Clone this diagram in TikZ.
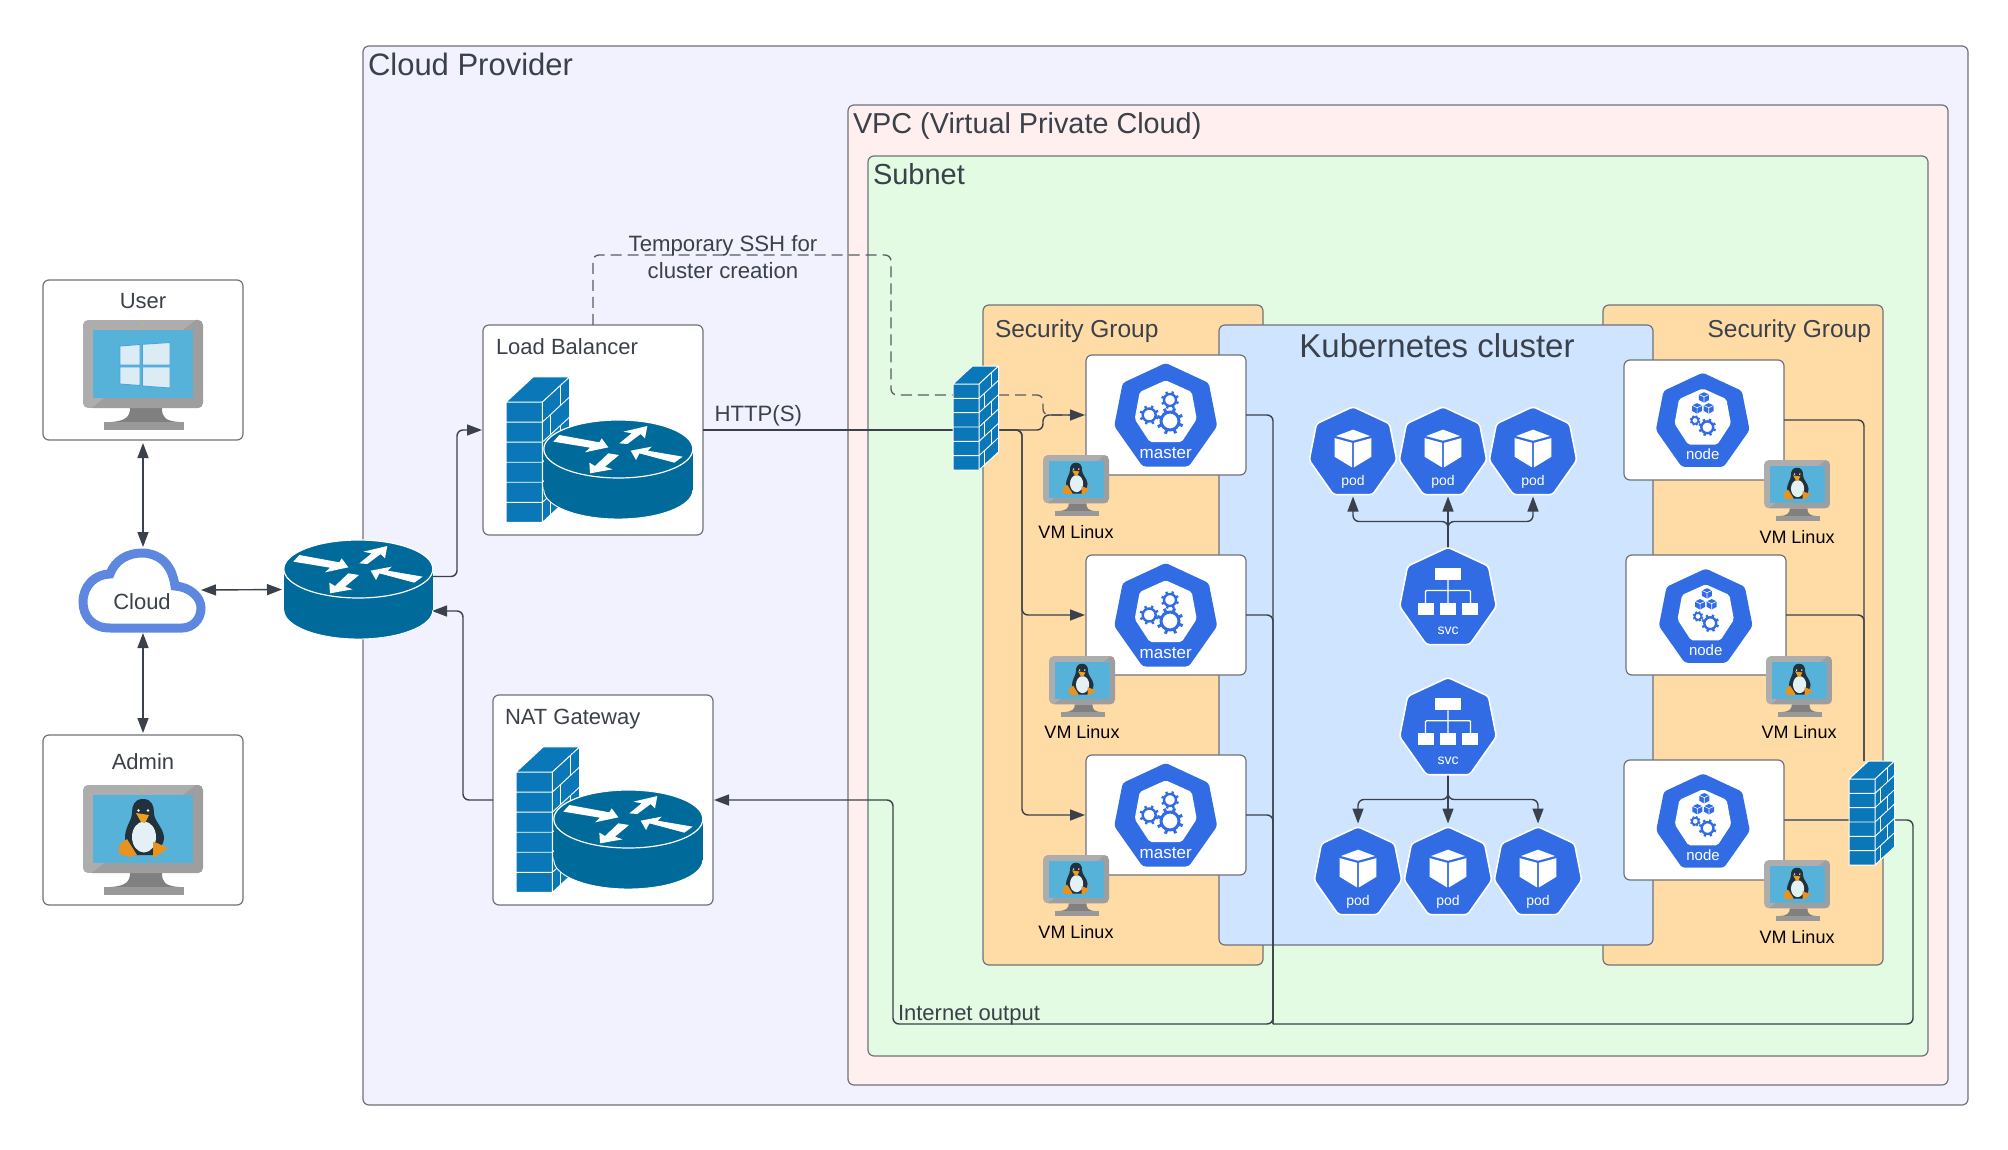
\documentclass[tikz,border=0pt]{standalone}
\usepackage{fontspec}
\setmainfont{Liberation Sans}
\usetikzlibrary{arrows.meta,calc}
\definecolor{ink}{HTML}{3A414A}
\definecolor{edgec}{HTML}{6F7279}
\definecolor{cpfill}{HTML}{F1F2FE}
\definecolor{vpcfill}{HTML}{FFF0EF}
\definecolor{subfill}{HTML}{E3FAE3}
\definecolor{sgfill}{HTML}{FFDBA6}
\definecolor{k8fill}{HTML}{CFE4FF}
\definecolor{rtblue}{HTML}{006A9A}
\definecolor{fwblue}{HTML}{0A78B8}
\definecolor{hexblue}{HTML}{326CE5}
\definecolor{cloudblue}{HTML}{5E87DF}
\definecolor{screenb}{HTML}{56B2D9}
\definecolor{pengdark}{HTML}{22323C}
\definecolor{pengbelly}{HTML}{E3F0F5}
\definecolor{pengbeak}{HTML}{F0A020}
\definecolor{pengfoot}{HTML}{E8921F}
\definecolor{winpane}{HTML}{DBECF5}
\definecolor{winedge}{HTML}{4AA5DC}
\tikzset{
  zone/.style={draw=edgec,line width=1.2pt,rounded corners=6pt,inner sep=0pt,outer sep=0pt,anchor=north west},
  ghost/.style={inner sep=0pt,outer sep=0pt},
  conn/.style={draw=ink,line width=1.4pt,rounded corners=6pt},
  arr/.style={-{Triangle[length=15pt,width=11pt]}},
  biarr/.style={{Triangle[length=15pt,width=11pt]}-{Triangle[length=15pt,width=11pt]}},
  dashc/.style={draw=edgec!80!black,line width=1.3pt,rounded corners=6pt,dash pattern=on 11pt off 6pt},
  txt/.style={inner sep=0pt,outer sep=0pt,text=ink},
}
\newcommand\fs[1]{\fontsize{#1}{#1}\selectfont}
\newcommand\bx[6]{\node[zone,#6,minimum width={#4-#2},minimum height={#5-#3}] (#1) at (#2,#3) {};}
\newcommand\heptpath{(0,0) -- (43,20) -- (51.5,63) -- (23,103.5) -- (-23,103.5) -- (-51.5,63) -- (-43,20) -- cycle}
\newcommand\heptinner{(0,17.3) -- (26,29) -- (31,56) -- (16,79) -- (-16,79) -- (-31,56) -- (-26,29) -- cycle}
\newcommand\gear[4]{%
  \draw[hexblue,line width=#4pt] (#1,#2) circle (#3);
  \foreach \a in {0,45,...,315}{\draw[hexblue,line width=#4pt] (#1,#2) ++(\a+20:#3) -- ++(\a+20:#3*0.5);}
}
\newcommand\smallcube[2]{%
  \begin{scope}[shift={(#1,#2)}]
  \fill[hexblue] (0,-5.5) -- (5.5,-3) -- (5.5,3) -- (0,6) -- (-5.5,3) -- (-5.5,-3) -- cycle;
  \draw[white,line width=.6pt] (-5.5,-3) -- (0,-.5) -- (5.5,-3) (0,-.5) -- (0,6);
  \end{scope}
}
\newcommand\masterhex[3]{%
  \begin{scope}[shift={(#2,#3)}]
  \fill[hexblue,rounded corners=3pt] \heptpath;
  \fill[white,rounded corners=2pt] \heptinner;
  \gear{4.3}{58}{9}{3}
  \gear{4.3}{37}{6}{2.4}
  \gear{-16.5}{52}{6.5}{2.4}
  \node[txt,text=white] (#1) at (0,90) {\fs{17}master};
  \end{scope}
}
\newcommand\nodehex[4]{%
  \begin{scope}[shift={(#2,#3)},scale=.91]
  \fill[hexblue,rounded corners=3pt] \heptpath;
  \fill[white,rounded corners=2pt] \heptinner;
  \smallcube{1.4}{27}
  \smallcube{-6.2}{39}
  \smallcube{6.6}{39}
  \gear{-8.5}{52.5}{3.8}{1.8}
  \gear{5}{60}{6.5}{2.4}
  \node[txt,text=white] (#1) at (0,#4) {\fs{15}node};
  \end{scope}
}
\newcommand\podhex[3]{%
  \begin{scope}[shift={(#2,#3)},scale=.85]
  \draw[white,fill=hexblue,line width=1.6pt,rounded corners=3pt] \heptpath;
  \fill[white] (0,27) -- (20,34.5) -- (0,40) -- (-20,34.5) -- cycle;
  \fill[white] (-21.5,37) -- (-1,42.5) -- (-1,71.5) -- (-21.5,59) -- cycle;
  \fill[white] (21.5,37) -- (1,42.5) -- (1,71.5) -- (21.5,59) -- cycle;
  \node[txt,text=white] (#1) at (0,88) {\fs{14}pod};
  \end{scope}
}
\newcommand\svchex[3]{%
  \begin{scope}[shift={(#2,#3)},scale=.94]
  \draw[white,fill=hexblue,line width=1.6pt,rounded corners=3pt] \heptpath;
  \fill[white] (-13.7,22) rectangle (14,35);
  \draw[white,line width=1.3pt,rounded corners=1pt] (0,35) -- (0,60) (-24,60) -- (-24,46) -- (24,46) -- (24,60);
  \fill[white] (-32,59.5) rectangle (-15,72);
  \fill[white] (-8.5,59.5) rectangle (8.5,72);
  \fill[white] (15,59.5) rectangle (32,72);
  \node[txt,text=white] (#1) at (0,89) {\fs{14}svc};
  \end{scope}
}
\newcommand\routericon[2]{%
  \begin{scope}[shift={(#1,#2)},scale=.33333]
  \draw[white,fill=rtblue,line width=.9pt] (235,240) ellipse [x radius=223.5,y radius=87];
  \fill[rtblue] (11.5,117) rectangle (458.5,240);
  \draw[white,fill=rtblue,line width=1.2pt] (235,117) ellipse [x radius=223.5,y radius=87];
  \fill[white] (40,95) -- (58,75) -- (178,97) -- (185,85) -- (205,112) -- (135,127) -- (150,113) -- cycle;
  \fill[white] (238,100) -- (275,70) -- (250,65) -- (322,48) -- (315,85) -- (302,72) -- (262,102) -- cycle;
  \fill[white] (428,140) -- (403,158) -- (298,130) -- (288,150) -- (272,122) -- (335,110) -- (323,122) -- cycle;
  \fill[white] (237,135) -- (195,170) -- (218,178) -- (150,190) -- (148,158) -- (165,168) -- (205,130) -- cycle;
  \end{scope}
}
\newcommand\firewallicon[3]{%
  \begin{scope}[shift={(#1,#2)},scale=#3]
  \fill[fwblue] (0,0) rectangle (26,86);
  \fill[fwblue] (0,0) -- (19.5,-18) -- (45.5,-18) -- (26,0) -- cycle;
  \fill[fwblue] (26,0) -- (45.5,-18) -- (45.5,68) -- (26,86) -- cycle;
  \foreach \r in {1,...,5}{
    \pgfmathsetmacro\yy{\r*86/6}
    \pgfmathsetmacro\yb{\yy-18}
    \draw[white,line width=.9pt] (0,\yy) -- (26,\yy) -- (45.5,\yb);
  }
  \foreach \r/\f in {0/.65,1/.3,2/.65,3/.3,4/.65,5/.3}{
    \pgfmathsetmacro\xx{26+19.5*\f}
    \pgfmathsetmacro\ya{\r*86/6-18*\f}
    \pgfmathsetmacro\yb{\ya+86/6}
    \draw[white,line width=.9pt] (\xx,\ya) -- (\xx,\yb);
  }
  \draw[white,line width=1pt,line join=round] (0,0) rectangle (26,86) (0,0) -- (19.5,-18) -- (45.5,-18) -- (45.5,68) -- (26,86) (26,0) -- (45.5,-18);
  \end{scope}
}
\newcommand\penguin{%
  \fill[pengdark] (60,14) .. controls (51,14) and (49,21) .. (49,28) .. controls (49,36) and (41,42) .. (42,56) .. controls (43,62) and (46,66) .. (50,70) -- (70,70) .. controls (76,66) and (81,60) .. (81,52) .. controls (80,42) and (71,36) .. (71,28) .. controls (71,21) and (69,14) .. (60,14) -- cycle;
  \fill[pengbelly] (61,52) ellipse [x radius=12,y radius=15.5];
  \fill[white] (55.5,25.5) circle (1.4) (65,25.5) circle (1.4);
  \fill[pengbeak] (53,28) -- (66,30) -- (62,38) -- (58,37) -- cycle;
  \fill[pengfoot] (36,60) -- (44,54) -- (54,70) -- (47,72) -- (36,69) -- cycle;
  \fill[pengfoot] (70,57) -- (74,58) -- (85,63) -- (77,69) -- (70,73) -- cycle;
}
\newcommand\winlogo{%
  \fill[winpane,draw=winedge,line width=.9pt] (37,26) -- (57,24.5) -- (57,45) -- (37,45) -- cycle;
  \fill[winpane,draw=winedge,line width=.9pt] (59.5,24.3) -- (87,22.5) -- (87,45) -- (59.5,45) -- cycle;
  \fill[winpane,draw=winedge,line width=.9pt] (37,47) -- (57,47) -- (57,65.5) -- (37,64) -- cycle;
  \fill[winpane,draw=winedge,line width=.9pt] (59.5,47) -- (87,47) -- (87,68) -- (59.5,66) -- cycle;
}
\newcommand\monitor[4]{%
  \begin{scope}[shift={(#1,#2)},scale=#3]
  \fill[black!50] (47,88) .. controls (47,97) and (42,101) .. (28,102) -- (96,102) .. controls (82,101) and (79,97) .. (79,88) -- cycle;
  \fill[black!40] (21,102) rectangle (101,110);
  \begin{scope}
    \clip[rounded corners=5pt] (0,0) rectangle (120,88);
    \fill[black!32] (0,0) rectangle (120,88);
    \fill[black!38] (100,10) -- (113,0) -- (120,0) -- (120,88) -- (9,88) -- (21,78) -- (110,78) -- (110,10) -- cycle;
  \end{scope}
  \fill[screenb] (10,10) rectangle (110,78);
  \fill[yellow!70!green] (60,5) circle (.9);
  #4
  \end{scope}
}
\begin{document}
\begin{tikzpicture}[x=1pt,y=-1pt]
\useasboundingbox (0,0) rectangle (2008,1150);
\fill[white] (0,0) rectangle (2008,1150);
% zones
\bx{cp}{363}{46}{1968}{1105}{fill=cpfill}
\bx{vpc}{848}{105}{1948}{1085}{fill=vpcfill}
\bx{sub}{868}{156}{1928}{1056}{fill=subfill}
\bx{sgl}{983}{305}{1263}{965}{fill=sgfill}
\bx{sgr}{1603}{305}{1883}{965}{fill=sgfill}
\bx{k8}{1219}{325}{1653}{945}{fill=k8fill}
\node[txt,anchor=west] (tcp) at (368,64.5) {\fs{31}Cloud Provider};
\node[txt,anchor=west] (tvpc) at (853,126) {\fs{28.8}VPC (Virtual Private Cloud)};
\node[txt,anchor=west] (tsub) at (873,174) {\fs{29}Subnet};
\node[txt,anchor=west] (tsgl) at (995,331.5) {\fs{24.5}Security Group};
\node[txt,anchor=east] (tsgr) at (1871,331.5) {\fs{24.5}Security Group};
\node[txt] (tk8) at (1437,346) {\fs{33}Kubernetes cluster};
% outer boxes
\bx{user}{43}{280}{243}{440}{fill=white}
\bx{admin}{43}{735}{243}{905}{fill=white}
\bx{lb}{483}{325}{703}{535}{fill=white}
\bx{nat}{493}{695}{713}{905}{fill=white}
\node[txt] (tuser) at (143,301) {\fs{22}User};
\node[txt] (tadmin) at (143,762) {\fs{22}Admin};
\node[txt,anchor=west] (tlb) at (496,347) {\fs{22}Load Balancer};
\node[txt,anchor=west] (tnat) at (505,719.5) {\fs{22}NAT Gateway};
% anchors for icons
\node[ghost,minimum width=128,minimum height=84] (cld) at (143,590) {};
\node[ghost,minimum width=149,minimum height=99] (rt) at (358.5,589.5) {};
\node[ghost,minimum width=45,minimum height=103] (fwa) at (975.5,417.5) {};
\node[ghost,minimum width=45,minimum height=104] (fwb) at (1871.5,813) {};
% master and worker boxes
\bx{ma}{1086}{355}{1246}{475}{fill=white}
\bx{mb}{1086}{555}{1246}{675}{fill=white}
\bx{mc}{1086}{755}{1246}{875}{fill=white}
\bx{na}{1624}{360}{1784}{480}{fill=white}
\bx{nb}{1626}{555}{1786}{675}{fill=white}
\bx{nc}{1624}{760}{1784}{880}{fill=white}
% pods anchors
\node[ghost,minimum width=87,minimum height=87] (pa) at (1353,450) {};
\node[ghost,minimum width=87,minimum height=87] (pb) at (1443,450) {};
\node[ghost,minimum width=87,minimum height=87] (pc) at (1533,450) {};
\node[ghost,minimum width=100,minimum height=96] (sa) at (1448,595.5) {};
\node[ghost,minimum width=100,minimum height=96] (sb) at (1448,725.5) {};
\node[ghost,minimum width=87,minimum height=87] (qa) at (1358,870) {};
\node[ghost,minimum width=87,minimum height=87] (qb) at (1448,870) {};
\node[ghost,minimum width=87,minimum height=87] (qc) at (1538,870) {};
\coordinate (bus) at (1273,1024);
\coordinate (busl) at (893,1024);
\coordinate (fwtop) at ($(fwb.north)+(-7.5,0)$);
% connectors
\draw[conn,biarr,shorten <=3pt,shorten >=1pt] (user.south) -- (cld.north);
\draw[conn,biarr,shorten <=1pt,shorten >=2pt] (cld.south) -- (admin.north);
\draw[conn,biarr,shorten <=-6pt,shorten >=2pt] (cld.east) -- (rt.west);
\draw[conn,arr,shorten >=1pt] ($(rt.east)+(0,-13)$) -- ++(24,0) |- (lb.west);
\draw[conn,arr,shorten >=-1pt] (nat.west) -- ++(-30,0) |- ($(rt.east)+(0,21.5)$);
\draw[dashc] (lb.north) -- ++(0,-70) -- ++(298,0) |- ($(fwa.west)+(0,-22.5)$);
\draw[dashc] ($(fwa.east)+(0,-22.5)$) -- ++(45,0) |- (ma.west);
\draw[conn] (lb.east) -- (lb.east -| fwa.west);
\draw[conn,arr,shorten >=1pt] (lb.east -| fwa.east) -- ++(45,0) |- (ma.west);
\draw[conn,arr,shorten >=1pt] (lb.east -| fwa.east) -- ++(24,0) |- (mb.west);
\draw[conn,arr,shorten >=1pt] (lb.east -| fwa.east) -- ++(24,0) |- (mc.west);
\draw[conn,arr,shorten >=1pt] (ma.east) -| (bus) -- (busl) |- (nat.east);
\draw[conn] (mb.east) -| (bus);
\draw[conn] (mc.east) -| (bus);
\draw[conn] (na.east) -| (fwtop);
\draw[conn] (nb.east) -| (fwtop);
\draw[conn,draw=edgec] (nc.east) -- (nc.east -| fwb.west);
\draw[conn] ($(fwb.east)+(0,7)$) -- ++(19,0) |- (bus);
\draw[conn,arr,shorten >=3pt] (sa.north) -- ++(0,-26) -| (pa.south);
\draw[conn,arr,shorten >=3pt] (sa.north) -- (sa.north |- pb.south);
\draw[conn,arr,shorten >=3pt] (sa.north) -- ++(0,-26) -| (pc.south);
\draw[conn,arr,shorten >=3pt] (sb.south) -- ++(0,26) -| (qa.north);
\draw[conn,arr,shorten >=3pt] (sb.south) -- (qb.north);
\draw[conn,arr,shorten >=3pt] (sb.south) -- ++(0,26) -| (qc.north);
% labels on connectors
\node[txt,align=center,font=\fontsize{22.2}{27}\selectfont] (tssh) at (723,257) {Temporary SSH for\\cluster creation};
\node[txt,anchor=west] (thttp) at (714.5,415.5) {\fs{22.2}HTTP(S)};
\node[txt,anchor=west] (tint) at (898,1015.5) {\fs{22}Internet output};
% icons
\draw[cloudblue,fill=white,line width=9pt] (110,628) .. controls (92,628) and (83,616) .. (83,602) .. controls (83,586) and (95,574) .. (110,574) .. controls (115,560) and (128,553) .. (142,553) .. controls (158,553) and (172,563) .. (175,586) .. controls (190,587) and (201,597) .. (201,608) .. controls (201,620) and (192,628) .. (182,628) -- cycle;
\node[txt] (tcld) at (142,602) {\fs{22}Cloud};
\routericon{280}{530}
\firewallicon{516}{772}{1.4}
\routericon{550}{780}
\firewallicon{506}{402}{1.4}
\routericon{540}{410}
\firewallicon{953}{384}{1}
\firewallicon{1849}{779}{1}
\monitor{83}{320}{1}{\winlogo}
\monitor{83}{785}{1}{\penguin}
\masterhex{hma}{1165.7}{363}
\masterhex{hmb}{1165.7}{563}
\masterhex{hmc}{1165.7}{763}
\nodehex{hna}{1702.7}{372.7}{89.5}
\nodehex{hnb}{1705.7}{568.6}{89.5}
\nodehex{hnc}{1703}{773.5}{89.5}
\podhex{ta}{1353}{406.7}
\podhex{tb}{1443}{406.7}
\podhex{tc}{1533}{406.7}
\svchex{tsa}{1448}{547.3}
\svchex{tsb}{1448}{677.5}
\podhex{ua}{1358}{826.7}
\podhex{ub}{1448}{826.7}
\podhex{uc}{1538}{826.7}
\monitor{1043}{455}{.55}{\penguin}
\monitor{1049}{656}{.55}{\penguin}
\monitor{1043}{855}{.55}{\penguin}
\monitor{1764}{460}{.55}{\penguin}
\monitor{1766}{656}{.55}{\penguin}
\monitor{1764}{860}{.55}{\penguin}
\node[txt,text=black] (va) at (1076,532) {\fs{18}VM Linux};
\node[txt,text=black] (vb) at (1082,732) {\fs{18}VM Linux};
\node[txt,text=black] (vc) at (1076,932) {\fs{18}VM Linux};
\node[txt,text=black] (vd) at (1797,537) {\fs{18}VM Linux};
\node[txt,text=black] (ve) at (1799,732) {\fs{18}VM Linux};
\node[txt,text=black] (vf) at (1797,937) {\fs{18}VM Linux};
\end{tikzpicture}
\end{document}
